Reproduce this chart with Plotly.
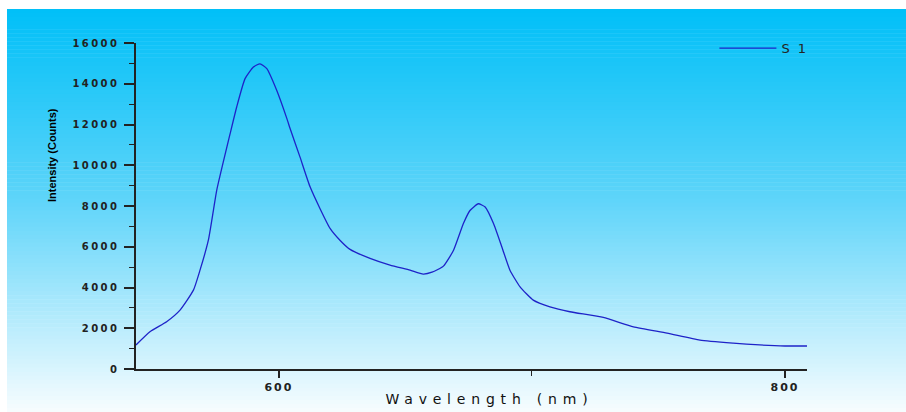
import numpy as np
import plotly.graph_objects as go

wavelength = [543.5, 549.0, 555.6, 560.9, 566.2, 568.8, 572.1, 574.1, 575.4, 580.7, 583.3, 586.6,
              589.9, 592.5, 595.2, 599.1, 603.1, 604.4, 608.3, 612.3, 616.2, 620.2, 624.1, 628.1,
              636.0, 643.9, 651.8, 657.0, 660.5, 665.0, 669.0, 672.9, 675.5, 678.8, 681.5, 684.8,
              688.1, 691.3, 695.3, 700.5, 707.1, 715.0, 728.2, 740.1, 753.4, 766.4, 779.5, 790.0,
              800.0, 808.7]
intensity = [1180, 1830, 2320, 2890, 3870, 4850, 6320, 7790, 8770, 11550, 12860, 14250,
             14820, 14980, 14740, 13680, 12300, 11800, 10410, 8940, 7880, 6900, 6320, 5870,
             5430, 5100, 4850, 4660, 4750, 5050, 5830, 7140, 7780, 8110, 7950, 7140,
             5990, 4850, 4030, 3380, 3050, 2810, 2530, 2070, 1760, 1420, 1270, 1180,
             1130, 1130]

series_name = "S 1"
x_title = "Wavelength (nm)"
y_title = "Intensity (Counts)"
y_ticks = [0, 2000, 4000, 6000, 8000, 10000, 12000, 14000, 16000]
y_tick_labels = [str(v) for v in y_ticks]
x_ticks = [600, 800]
x_tick_labels = [str(v) for v in x_ticks]

fig = go.Figure()
fig.add_trace(go.Scatter(x=wavelength, y=intensity, mode="lines", name=series_name,
                         line=dict(color="rgb(30,35,200)", width=1.3, shape="spline", smoothing=0.5)))

# gradient background bands (pixel geometry of page)
W, H = 906, 412
L, R, T, B = 136, 807, 43, 369
pw, ph = R - L, B - T
top_px, bot_px, left_px, right_px = 9, 412, 7, 906
stops_y = [9, 200, 412]
stops_c = [(0, 192, 248), (95, 213, 250), (248, 253, 255)]
n = 100
edges = np.linspace(top_px, bot_px, n + 1)
shapes = []
for i in range(n):
    yc = 0.5 * (edges[i] + edges[i + 1])
    c = [np.interp(yc, stops_y, [s[k] for s in stops_c]) for k in range(3)]
    shapes.append(dict(type="rect", xref="paper", yref="paper", layer="below",
                       x0=(left_px - L) / pw, x1=(right_px - L) / pw,
                       y0=(B - edges[i + 1] - 0.5) / ph, y1=(B - edges[i]) / ph,
                       line=dict(width=0), fillcolor=f"rgb({int(c[0])},{int(c[1])},{int(c[2])})"))

fig.update_layout(
    width=W, height=H,
    margin=dict(l=L, r=W - R, t=T, b=H - B, autoexpand=False),
    paper_bgcolor="white", plot_bgcolor="rgba(0,0,0,0)",
    shapes=shapes,
    showlegend=True,
    legend=dict(x=0.862, y=1.03, xanchor="left", yanchor="top", bgcolor="rgba(0,0,0,0)",
                font=dict(family="DejaVu Sans", size=13, color="#222"), itemwidth=57),
    annotations=[
        dict(text=y_title, textangle=-90, xref="paper", yref="paper",
             x=(52 - L) / pw, y=(B - 155) / ph, showarrow=False,
             xanchor="center", yanchor="middle",
             font=dict(family="Liberation Sans Narrow, Liberation Sans", size=11,
                       color="#000", weight="bold")),
        dict(text=x_title, xref="paper", yref="paper",
             x=(489 - L) / pw, y=(B - 399) / ph, showarrow=False,
             xanchor="center", yanchor="middle",
             font=dict(family="DejaVu Sans", size=14, color="#111")),
    ],
    xaxis=dict(range=[543.5, 808.7], tickvals=x_ticks, ticktext=x_tick_labels, showgrid=False, zeroline=False,
               showline=True, linecolor="#222", linewidth=1.5, ticks="outside", ticklen=7,
               tickcolor="#222", tickwidth=1.5, automargin=False,
               minor=dict(dtick=100, tick0=600, ticks="outside", ticklen=5, tickcolor="#222", tickwidth=1.2),
               tickfont=dict(family="DejaVu Sans", size=11, color="#222", weight="bold")),
    yaxis=dict(range=[0, 16000], tickvals=y_ticks, ticktext=y_tick_labels, showgrid=False, zeroline=False,
               showline=True, linecolor="#222", linewidth=1.5, ticks="outside", ticklen=10,
               tickcolor="#222", tickwidth=1.5, automargin=False, ticklabelstandoff=3,
               minor=dict(dtick=1000, tick0=0, ticks="outside", ticklen=5, tickcolor="#222", tickwidth=1.2),
               tickfont=dict(family="DejaVu Sans", size=10, color="#222", weight="bold")),
)

post = """
function ls(){
  document.querySelectorAll('.annotation-text').forEach(function(e){
    if (e.textContent.indexOf('Wavelength') >= 0) { e.style.letterSpacing='5.8px'; }
  });
  document.querySelectorAll('.ytick text').forEach(function(e){e.style.letterSpacing='2.4px';});
  document.querySelectorAll('.xtick text').forEach(function(e){e.style.letterSpacing='2px';});
  document.querySelectorAll('.legendtext').forEach(function(e){e.style.letterSpacing='2px';});
}
ls(); setTimeout(ls, 50);
"""
fig.write_html("out.html", post_script=post)
